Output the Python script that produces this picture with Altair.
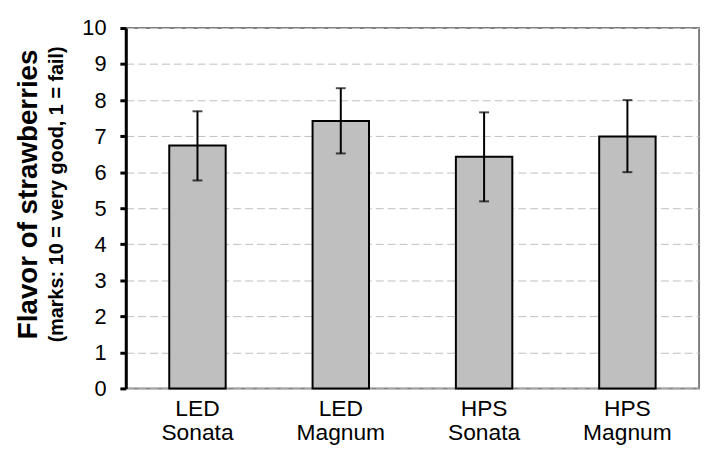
import altair as alt
import pandas as pd

categories = ["LED Sonata", "LED Magnum", "HPS Sonata", "HPS Magnum"]
means = [6.74, 7.42, 6.43, 6.99]
err_hi = [7.69, 8.33, 7.66, 8.00]
err_lo = [5.77, 6.52, 5.19, 6.00]
tick_values = [0, 1, 2, 3, 4, 5, 6, 7, 8, 9, 10]

df = pd.DataFrame({"cat": categories, "mean": means, "hi": err_hi, "lo": err_lo})

FONT = "Liberation Sans"

xaxis = alt.Axis(labelAngle=0, domain=False, ticks=False,
                 labelExpr="split(datum.label, ' ')",
                 labelFontSize=23, labelLineHeight=25, labelPadding=9,
                 labelColor="#000000", labelFont=FONT)
yaxis = alt.Axis(values=tick_values, tickCount=20, format="d", grid=True, gridColor="#bfbfbf",
                 gridDash=[8, 4], gridWidth=1, labelOverlap=False,
                 domainColor="#000000", domainWidth=3,
                 tickColor="#000000", tickWidth=3, tickSize=6,
                 labelFontSize=22, labelPadding=14, labelColor="#000000",
                 labelFont=FONT)
yscale = alt.Scale(domain=[0, 10], nice=False)

def X():
    return alt.X("cat:N", sort=categories, title=None, axis=xaxis)

def Y(field):
    return alt.Y(field, type="quantitative", scale=yscale, title=None, axis=yaxis)

base = alt.Chart(df)

bars = base.mark_bar(size=57, fill="#bfbfbf", stroke="#000000", strokeWidth=2).encode(
    x=X(), y=Y("mean"))

rules = base.mark_rule(color="#000000", strokeWidth=2).encode(
    x=X(), y=Y("lo"), y2="hi:Q")

cap_hi = base.mark_tick(color="#000000", thickness=2, size=10).encode(x=X(), y=Y("hi"))
cap_lo = base.mark_tick(color="#000000", thickness=2, size=10).encode(x=X(), y=Y("lo"))

one = alt.Data(values=[{"a": 1}])
title_main = alt.Chart(one).mark_text(
    text="Flavor of strawberries", angle=270, font=FONT, fontSize=28,
    fontWeight="bold", color="#000000", align="center", baseline="alphabetic"
).encode(x=alt.value(-90), y=alt.value(168))
title_sub = alt.Chart(one).mark_text(
    text="(marks: 10 = very good, 1 = fail)", angle=270, font=FONT, fontSize=20,
    fontWeight="bold", color="#000000", align="center", baseline="alphabetic"
).encode(x=alt.value(-63), y=alt.value(168))

chart = alt.layer(bars, rules, cap_hi, cap_lo, title_main, title_sub).properties(
    width=579, height=364,
    autosize=alt.AutoSizeParams(type="none"),
    padding={"left": 119, "top": 18, "right": 6, "bottom": 61},
    background="#ffffff",
).configure_view(stroke="#808080", strokeWidth=2)

chart.save("out.html", embed_options={"renderer": "svg", "actions": False})
